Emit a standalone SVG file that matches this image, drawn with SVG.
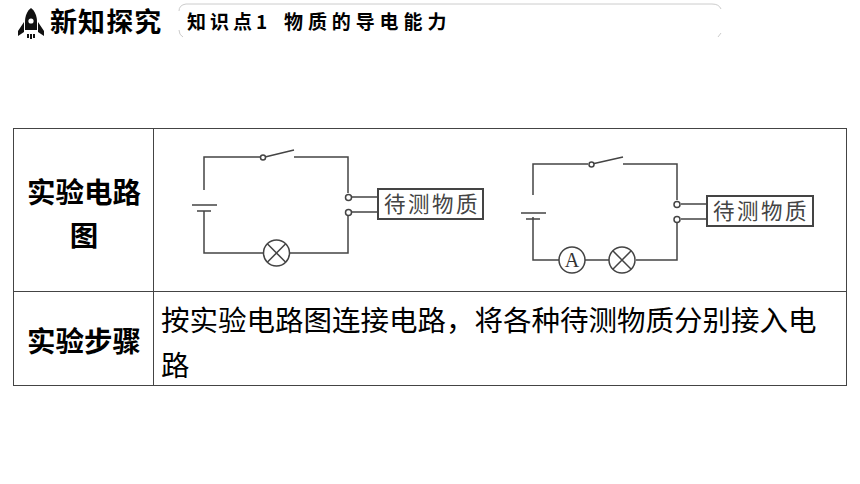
<svg xmlns="http://www.w3.org/2000/svg" width="860" height="484" viewBox="0 0 860 484">
<style>
text{font-family:"Noto Sans CJK SC","Liberation Sans",sans-serif;fill:#000}
.h{font-size:27px;font-weight:700;letter-spacing:1.1px}
.s{font-size:19px;font-weight:700;letter-spacing:4px}
.s2{font-size:19px;font-weight:700;letter-spacing:4.900px}
.c{font-size:28.500px;font-weight:700;text-anchor:middle}
.b{font-size:28.500px}
.w{fill:none;stroke:#444;stroke-width:1.5}
.t{fill:#fff;stroke:#444;stroke-width:1.5}
.r{fill:#fff;stroke:#444;stroke-width:2}
.l{font-size:21.500px;fill:#444;letter-spacing:2.500px}
.line{fill:none;stroke:#444;stroke-width:1}
</style>
<rect width="860" height="484" fill="#fff"/>
<g id="header">
<path d="M31 8 C27 11 25 16 25 22 L25 30 L37 30 L37 22 C37 16 35 11 31 8Z" fill="#111"/>
<circle cx="31" cy="21" r="2.600" fill="#fff"/>
<path d="M24 22 L18 31 L18 36 L24 32Z M38 22 L44 31 L44 36 L38 32Z" fill="#111"/>
<rect x="27" y="34" width="2" height="4" fill="#111"/><rect x="30" y="34" width="2" height="5" fill="#111"/><rect x="33" y="34" width="2" height="4" fill="#111"/>
<text class="h" x="50" y="32">新知探究</text>
<path d="M186 4 H712 Q719 4 721 9 M179 11 Q179 5 186 4 M179 30 Q179 35 183 37 M721 33 L718 37" fill="none" stroke="#ccc" stroke-width="1"/>
<text class="s" x="187" y="29">知识点<tspan style="letter-spacing:0">1</tspan></text>
<text class="s2" x="284" y="29">物质的导电能力</text>
</g>
<g id="table">
<rect class="line" x="13.500" y="128.500" width="833" height="257"/>
<path class="line" d="M13.500 291.500H846.500M153.500 128.500V385.500"/>
<text class="c" x="84" y="203">实验电路</text>
<text class="c" x="84" y="246">图</text>
<text class="c" x="84" y="352">实验步骤</text>
<text class="b" x="161" y="331">按实验电路图连接电路，将各种待测物质分别接入电</text>
<text class="b" x="161" y="376">路</text>
</g>
<g id="connectors">
<path class="w" d="M204 190V157H260M294 157H348V193M204 211V253H263M290 253H348V216M352 197H378M352 212H378M265 157L294 150M192 205H217M197 211H211"/>
<path class="w" d="M533 195V164H588M623 164H677V200M533 217V260H559M585 260H609M636 260H677V223M681 204H707M681 219H707M592 164L623 157M521 213H546M526 219H540"/>
</g>
<g id="circuit1">
<circle class="t" cx="263" cy="157.500" r="2.500"/>
<circle class="t" cx="348.500" cy="197.500" r="3"/>
<circle class="t" cx="348.500" cy="212.500" r="3"/>
<circle class="t" cx="276.500" cy="253" r="13"/>
<path class="w" d="M267.300 243.800L285.700 262.200M285.700 243.800L267.300 262.200"/>
</g>
<g id="specimen1">
<rect class="r" x="378" y="189" width="105" height="30"/>
<text class="l" x="384" y="212">待测物质</text>
</g>
<g id="circuit2">
<circle class="t" cx="591.500" cy="164.500" r="2.500"/>
<circle class="t" cx="677" cy="204.500" r="3"/>
<circle class="t" cx="677" cy="219.500" r="3"/>
<circle class="t" cx="572" cy="260" r="13"/>
<text x="572" y="267" text-anchor="middle" style="font-family:'Liberation Serif',serif;font-size:20px;fill:#333">A</text>
<circle class="t" cx="622" cy="260" r="13"/>
<path class="w" d="M612.800 250.800L631.200 269.200M631.200 250.800L612.800 269.200"/>
</g>
<g id="specimen2">
<rect class="r" x="707" y="196" width="106" height="30"/>
<text class="l" x="713" y="219">待测物质</text>
</g>
</svg>
